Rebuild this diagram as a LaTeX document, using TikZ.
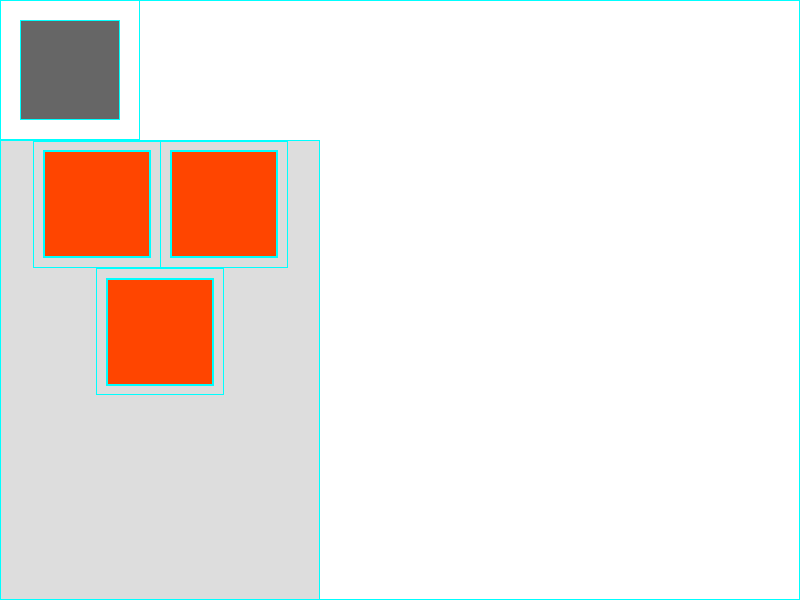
\documentclass[tikz,border=0pt]{standalone}
\usetikzlibrary{positioning}
\definecolor{edge}{HTML}{00FFFF}
\definecolor{panelgrey}{HTML}{DDDDDD}
\definecolor{darkgrey}{HTML}{666666}
\definecolor{tile}{HTML}{FF4500}
\begin{document}
\begin{tikzpicture}[x=1pt,y=-1pt,
  frame/.style={rectangle,draw=edge,line width=1pt,inner sep=0pt,outer sep=0pt,anchor=north west},
  cell/.style={frame,minimum width=127pt,minimum height=126pt},
  tilebox/.style={rectangle,draw=edge,line width=2pt,fill=tile,inner sep=0pt,
    minimum width=106pt,minimum height=106pt}]
  \useasboundingbox (0,0) rectangle (800,600);
  \node[frame,minimum width=799pt,minimum height=599pt] (page) at (0.5,0.5){};
  \node[frame,fill=white,minimum width=139pt,minimum height=139pt] (corner) at (0.5,0.5){};
  \node[frame,fill=darkgrey,minimum width=99pt,minimum height=99pt] (logo) at (20.5,20.5){};
  \node[frame,fill=panelgrey,minimum width=319pt,minimum height=459pt] (panel) at (0.5,140.5){};
  \node[cell] (cellA) at (33,141){};
  \node[cell] (cellB) at (160.5,141){};
  \node[cell] (cellC) at (96.5,268.5){};
  \node[tilebox] (tileA) at (cellA.center){};
  \node[tilebox] (tileB) at (cellB.center){};
  \node[tilebox] (tileC) at (cellC.center){};
\end{tikzpicture}
\end{document}
